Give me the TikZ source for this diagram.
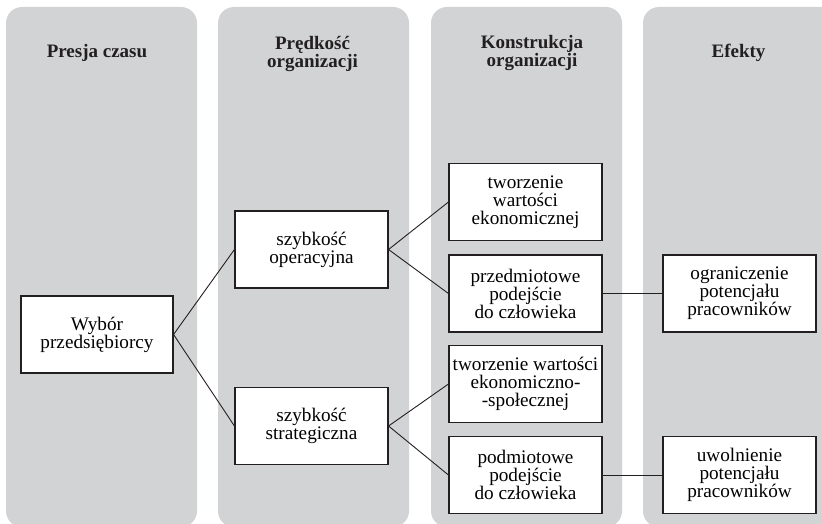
\documentclass[tikz,border=0pt]{standalone}
\usepackage{fontspec}
\setmainfont{Liberation Serif}
\definecolor{colgrey}{HTML}{D1D3D4}
\definecolor{ink}{HTML}{231F20}
\begin{document}
\begin{tikzpicture}[x=1pt,y=-1pt,
  column/.style={fill=colgrey, rounded corners=16pt},
  box/.style={draw=ink, line width=1.1pt, fill=white, minimum width=153pt,
    minimum height=77pt, inner sep=0pt, align=center,
    font=\fontsize{19.2}{18}\selectfont},
  head/.style={align=center, inner sep=0pt, text=ink,
    font=\fontsize{19}{18}\selectfont\bfseries},
  link/.style={draw=ink, line width=0.9pt}]
\useasboundingbox (0,0) rectangle (822,524);
\begin{scope}
  \clip (0,0) rectangle (822,524);
  \fill[column] (6,7) rectangle (197,527);
  \fill[column] (218,7) rectangle (409,527);
  \fill[column] (431,7) rectangle (622,527);
  \fill[column] (643,7) rectangle (850,527);
\end{scope}
% headings
\node[head] (h1) at (97,53) {Presja czasu};
\node[head] (h2) at (312.5,53.5) {Prędkość\\organizacji};
\node[head] (h3) at (532,53.5) {Konstrukcja\\organizacji};
\node[head] (h4) at (738.5,53) {Efekty};
% boxes
\node[box, minimum width=152pt] (w) at (97,334.5) {Wybór\\przedsiębiorcy};
\node[box] (op) at (311.5,249.5) {szybkość\\operacyjna};
\node[box] (st) at (311.5,426) {szybkość\\strategiczna};
\node[box] (t1) at (525.5,202) {tworzenie\\wartości\\ekonomicznej};
\node[box] (p1) at (525.5,293.5) {przedmiotowe\\podejście\\do człowieka};
\node[box] (t2) at (525.5,384) {tworzenie wartości\\ekonomiczno-\\-społecznej};
\node[box] (p2) at (525.5,475) {podmiotowe\\podejście\\do człowieka};
\node[box] (e1) at (739.5,293.5) {ograniczenie\\potencjału\\pracowników};
\node[box] (e2) at (739.5,475) {uwolnienie\\potencjału\\pracowników};
% connectors
\draw[link] (w.east) -- (op.west);
\draw[link] (w.east) -- (st.west);
\draw[link] (op.east) -- (t1.west);
\draw[link] (op.east) -- (p1.west);
\draw[link] (st.east) -- (t2.west);
\draw[link] (st.east) -- (p2.west);
\draw[link] (p1.east) -- (e1.west);
\draw[link] (p2.east) -- (e2.west);
\end{tikzpicture}
\end{document}
